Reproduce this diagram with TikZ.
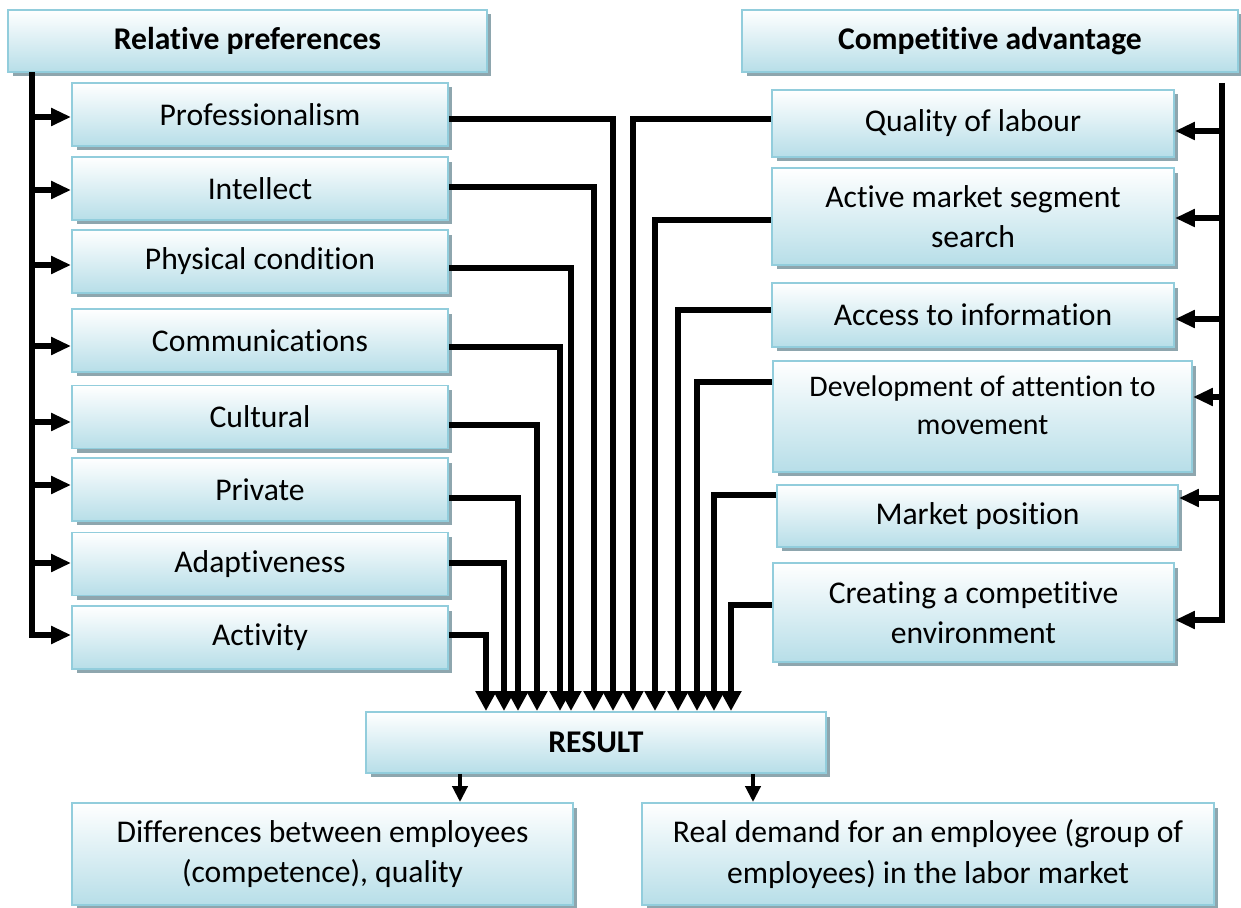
\documentclass[tikz,border=0pt]{standalone}
\usepackage{fontspec}
\setmainfont[Ligatures=NoCommon]{Carlito}
\usetikzlibrary{arrows.meta,calc,shadows}

\definecolor{boxblue}{HTML}{B7DEE8}
\definecolor{boxline}{HTML}{92CDDC}
\definecolor{boxshade}{HTML}{8EA6AE}

\begin{document}
\begin{tikzpicture}[x=0.02cm,y=-0.02cm,
  box/.style={draw=boxline, line width=1.1pt, top color=white, bottom color=boxblue,
    drop shadow={shadow xshift=0.09cm, shadow yshift=-0.09cm, fill=boxshade, opacity=1},
    align=center, inner sep=2pt, font=\fontsize{18}{23}\selectfont},
  head/.style={box, font=\fontsize{18}{23}\selectfont\bfseries},
  link/.style={line width=0.12cm, -{Triangle[length=0.4cm,width=0.4cm]}},
  feed/.style={line width=0.12cm, -{Triangle[length=0.4cm,width=0.34cm]}},
  outlink/.style={line width=0.09cm, -{Triangle[length=0.32cm,width=0.3cm]}}]
  \useasboundingbox (0,0) rectangle (1241,908);

  % headers
  \node[head, minimum width=9.58cm, minimum height=1.24cm] (relpref) at (247.5,41) {Relative preferences};
  \node[head, minimum width=9.92cm, minimum height=1.24cm] (compadv) at (990,41) {Competitive advantage};

  % left column
  \foreach \n/\y/\t in {prof/114.5/Professionalism, intel/188.5/Intellect,
      phys/261.5/Physical condition, comm/340.5/Communications, cult/417/Cultural,
      priv/489.5/Private, adapt/564/Adaptiveness, activ/637.5/Activity}
    \node[box, minimum width=7.52cm, minimum height=1.26cm] (\n) at (260,\y) {\t};

  % right column
  \node[box, minimum width=8.04cm, minimum height=1.34cm] (qual) at (973,123.5) {Quality of labour};
  \node[box, minimum width=8.04cm, minimum height=1.94cm] (active) at (973,216.5) {Active market segment\\search};
  \node[box, minimum width=8.04cm, minimum height=1.28cm] (access) at (973,315) {Access to information};
  \node[box, minimum width=8.38cm, minimum height=2.22cm, text depth=0.45cm,
    font=\fontsize{17}{21.5}\selectfont] (devel) at (982.5,416.5) {Development of attention to\\movement};
  \node[box, minimum width=8.02cm, minimum height=1.24cm] (market) at (977.5,516) {Market position};
  \node[box, minimum width=8.02cm, minimum height=1.98cm] (create) at (973.5,612.5) {Creating a competitive\\environment};

  % result and outcomes
  \node[head, minimum width=9.2cm, minimum height=1.22cm] (result) at (596,742.5) {RESULT};
  \node[box, minimum width=10.02cm, minimum height=2.04cm] (diff) at (322.5,854) {Differences between employees\\(competence), quality};
  \node[box, minimum width=11.44cm, minimum height=2.04cm] (demand) at (928,854) {Real demand for an employee (group of\\employees) in the labor market};

  % left bus
  \coordinate (ltop) at (32,72);
  \draw[feed] (ltop) |- ($(activ.west)+(0,-2.5)$);
  \foreach \n/\a in {prof/2.5, intel/1.5, phys/3.5, comm/5.5, cult/5, priv/-4.5, adapt/-1} {
    \coordinate (a) at ($(\n.west)+(0,\a)$);
    \draw[feed] (a -| ltop) -- (a);
  }

  % right bus
  \coordinate (rtop) at (1222,83);
  \draw[feed] (rtop) |- ($(create.east)+(0,7.5)$);
  \foreach \n/\a in {qual/7.5, active/1.5, access/4, devel/-19.5, market/-18} {
    \coordinate (a) at ($(\n.east)+(0,\a)$);
    \draw[feed] (a -| rtop) -- (a);
  }

  % into the result
  \foreach \n/\e/\x in {prof/4.5/613, intel/-1.5/594, phys/6.5/571, comm/6.5/560,
      cult/8/537, priv/8.5/518, adapt/-1/504, activ/-2.5/486}
    \draw[link] ($(\n.east)+(0,\e)$) -| (\x,0 |- result.north);
  \foreach \n/\e/\x in {qual/-4.5/633, active/3.5/655, access/-5/678, devel/-34.5/697,
      market/-21/714, create/-7.5/731}
    \draw[link] ($(\n.west)+(0,\e)$) -| (\x,0 |- result.north);

  \draw[outlink] (460,0 |- result.south) -- (460,0 |- diff.north);
  \draw[outlink] (753,0 |- result.south) -- (753,0 |- demand.north);
\end{tikzpicture}
\end{document}
